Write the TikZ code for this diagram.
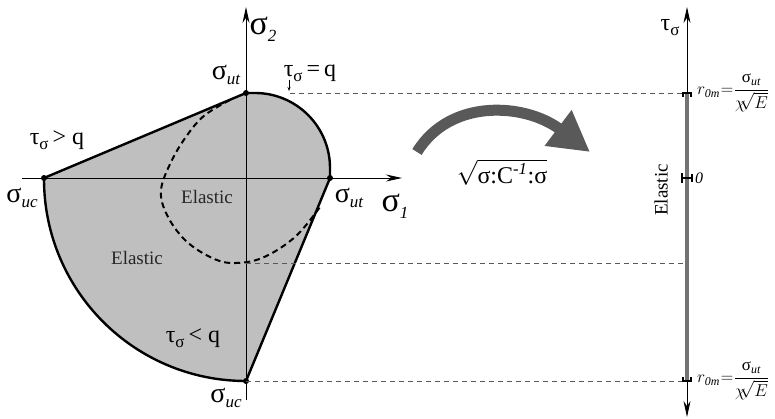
\documentclass[tikz,border=0pt]{standalone}
\usepackage{amsmath}
\usepackage{fontspec}
\setmainfont{Liberation Serif}
\usetikzlibrary{arrows.meta,calc}

\newcommand{\lo}[1]{\raisebox{-0.45ex}{\fontsize{17}{17}\selectfont\itshape #1}}
\newcommand{\taus}{τ\raisebox{-0.45ex}{\fontsize{17}{17}\selectfont σ}}
\newcommand{\rzero}{{\fontsize{17}{18}\selectfont$r_{\mathit{0m}}$\kern1pt$=$}\kern0.5pt%
  $\dfrac{\text{σ}_{\mathit{ut}}}{\chi\!\!\sqrt{E}}$}

\begin{document}
\begin{tikzpicture}[x=1pt,y=1pt,
    bound/.style={line width=2.4pt, line join=round},
    guide/.style={black!65, line width=0.9pt, dash pattern=on 5pt off 4pt},
    dot/.style={circle, fill=black, inner sep=0pt, minimum size=6pt},
    lbl/.style={font=\fontsize{24}{26}\selectfont, inner sep=0pt},
    sig/.style={font=\fontsize{28}{30}\selectfont, inner sep=0pt},
    big/.style={font=\fontsize{34}{36}\selectfont, inner sep=0pt},
    rlab/.style={font=\fontsize{17}{19}\selectfont, anchor=west, inner sep=0pt},
    el/.style={font=\fontsize{19}{21}\selectfont, text=black!85, inner sep=0pt}]
  \useasboundingbox (0,0) rectangle (775,418);
  % Punkte
  \coordinate (O) at (246,240);
  \coordinate (utT) at (246,325);
  \coordinate (ucL) at (44,240);
  \coordinate (utR) at (330,240);
  \coordinate (ucB) at (246,37);
  \coordinate (mid) at (246,155);
  % Flaeche
  \fill[black!25] (ucL) -- (utT) -- (255,325) arc[start angle=90, end angle=0, radius=75]
    -- (utR) -- (ucB) arc[start angle=270, end angle=180, radius=202] -- cycle;
  % Achsen
  \draw[line width=0.9pt, -{Stealth[length=16pt, width=7pt]}] (22,240) -- (402,240);
  \draw[line width=0.9pt, -{Stealth[length=16pt, width=7pt]}] (246,18) -- (246,411);
  % Rand
  \draw[bound] (ucL) -- (utT) -- (255,325) arc[start angle=90, end angle=0, radius=75]
    -- (utR) -- (ucB) arc[start angle=270, end angle=180, radius=202];
  % Elastischer Bereich
  \draw[line width=2pt, dash pattern=on 6pt off 4pt] plot[smooth, tension=0.6] coordinates {
    (230,318) (205,303) (188,284) (172,258) (161,228) (167,203) (185,178)
    (210,161) (232,155) (262,160) (295,181) (320,211)};
  \foreach \p in {utT, ucL, utR, ucB} \node[dot] at (\p) {};
  % Hilfslinien
  \draw[guide] (290,325) -- (685,325);
  \draw[guide] (mid) -- (685,155);
  \draw[guide] (ucB) -- (685,37);
  % Beschriftung links
  \node[big] (s2) at (263,389) {σ\lo{2}};
  \node[big] (s1) at (395,212) {σ\lo{1}};
  \node[sig] (lutT) at (226,343) {σ\lo{ut}};
  \node[sig] (lucL) at (22,220) {σ\lo{uc}};
  \node[sig] (lutR) at (349,220) {σ\lo{ut}};
  \node[sig] (lucB) at (226,20) {σ\lo{uc}};
  \node[lbl] (teq) at (310,345) {\taus\,=\,q};
  \node[lbl] (tgt) at (57,278) {\taus\,>\ q};
  \node[lbl] (tlt) at (193,80) {\taus\,<\ q};
  \draw[-{Stealth[length=4pt, width=3pt]}, line width=0.6pt] (289,338) -- (289,327);
  \node[el] (e1) at (207,221) {Elastic};
  \node[el] (e2) at (137,160) {Elastic};
  % Abbildung
  \draw[black!65, line width=11pt, -{Triangle[length=40pt, width=42pt]}]
    (417,266) .. controls (450,320) and (525,315) .. (590,266);
  \node[lbl] (nrm) at (502,246) {$\sqrt{\text{σ:C}^{\textit{-1}}\text{:σ}}$};
  % Achse rechts
  \draw[line width=0.9pt, -{Stealth[length=16pt, width=7pt]}] (687,200) -- (687,411);
  \draw[line width=0.9pt, -{Stealth[length=16pt, width=7pt]}] (687,200) -- (687,1);
  \draw[black!55, line width=4pt] (687,37) -- (687,325);
  \draw[line width=1.4pt] (683,321) -- (683,325) -- (691,325) -- (691,321);
  \draw[line width=1.4pt] (683,41) -- (683,37) -- (691,37) -- (691,41);
  \draw[line width=2pt] (682,235) -- (682,245) (682,240) -- (692,240) (692,236) -- (692,244);
  \node[lbl] (tau) at (670,390) {\taus};
  \node[el, rotate=90, text=black] (e3) at (661,228) {Elastic};
  \node[font=\fontsize{16}{18}\selectfont\itshape, anchor=west, inner sep=0pt] (zero) at (695,240) {0};
  \node[rlab] (r1) at (697,325) {\rzero};
  \node[rlab] (r2) at (697,37) {\rzero};
\end{tikzpicture}
\end{document}
